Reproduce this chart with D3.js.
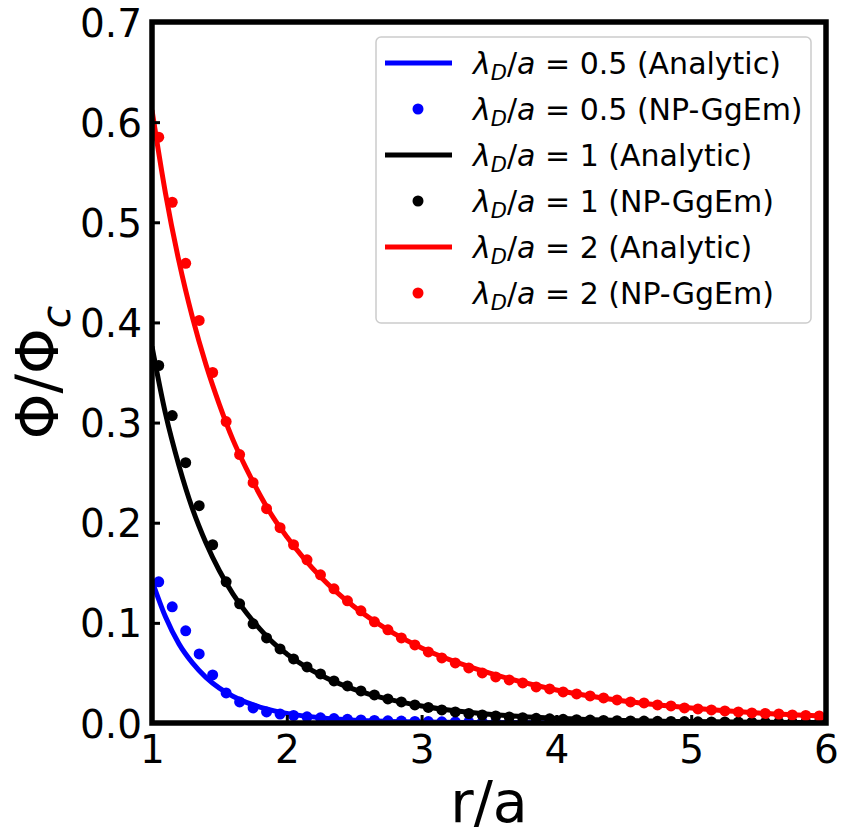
<!DOCTYPE html>
<html>
<head>
<meta charset="utf-8">
<script src="https://cdn.jsdelivr.net/npm/d3@7"></script>
<style>
  body { margin: 0; background: #fff; }
  svg { display: block; font-family: "DejaVu Sans", sans-serif; }
</style>
</head>
<body>
<svg id="graph" width="842" height="835"></svg>
<script>
// analytic curves at these r/a values
const lineR = [1.0, 1.1, 1.2, 1.3, 1.4, 1.5, 1.6, 1.7, 1.8, 1.9, 2.0, 2.25, 2.5, 2.75, 3.0, 3.5, 4.0, 4.5, 5.0, 5.5, 6.0];
const blueLine = [0.142, 0.106, 0.079, 0.060, 0.0456, 0.0348, 0.0267, 0.0206, 0.0159, 0.0124, 0.0096, 0.0052, 0.0028, 0.0016, 0.0009, 0.0003, 0.0001, 0.00004, 0.00002, 0.00001, 0];
const blackLine = [0.376, 0.309, 0.257, 0.214, 0.180, 0.152, 0.129, 0.110, 0.094, 0.080, 0.069, 0.048, 0.0336, 0.0238, 0.017, 0.0088, 0.0047, 0.0025, 0.0014, 0.0008, 0.0004];
const redLine = [0.612, 0.529, 0.461, 0.405, 0.358, 0.318, 0.283, 0.254, 0.228, 0.205, 0.186, 0.146, 0.116, 0.093, 0.075, 0.050, 0.033, 0.022, 0.015, 0.010, 0.007];

// NP-GgEm points
const dotR = [1.05, 1.15, 1.25, 1.35, 1.45, 1.55, 1.65, 1.75, 1.85, 1.95,
  2.05, 2.15, 2.25, 2.35, 2.45, 2.55, 2.65, 2.75, 2.85, 2.95,
  3.05, 3.15, 3.25, 3.35, 3.45, 3.55, 3.65, 3.75, 3.85, 3.95,
  4.05, 4.15, 4.25, 4.35, 4.45, 4.55, 4.65, 4.75, 4.85, 4.95,
  5.05, 5.15, 5.25, 5.35, 5.45, 5.55, 5.65, 5.75, 5.85, 5.95];
const blueDots = [0.141, 0.116, 0.092, 0.069, 0.048, 0.030, 0.021, 0.015, 0.011, 0.009,
  0.0075, 0.0062, 0.0052, 0.0044, 0.0037, 0.0031, 0.0026, 0.0022, 0.0019, 0.0016,
  0.0014, 0.0012, 0.0010, 0.0009, 0.0008, 0.0007, 0.0006, 0.0005, 0.0004, 0.0004,
  0.0003, 0.0003, 0.0003, 0.0002, 0.0002, 0.0002, 0.0002, 0.0001, 0.0001, 0.0001,
  0.0001, 0.0001, 0.0001, 0.0001, 0.0001, 0.0001, 0, 0, 0, 0];
const blackDots = [0.357, 0.307, 0.260, 0.217, 0.178, 0.141, 0.119, 0.099, 0.085, 0.074,
  0.064, 0.056, 0.049, 0.042, 0.037, 0.032, 0.028, 0.024, 0.021, 0.018,
  0.0155, 0.013, 0.011, 0.0095, 0.008, 0.007, 0.006, 0.0053, 0.0047, 0.0042,
  0.0037, 0.0033, 0.0029, 0.0026, 0.0023, 0.0021, 0.0019, 0.0017, 0.0015, 0.0014,
  0.0012, 0.0011, 0.0010, 0.0009, 0.0008, 0.0007, 0.0007, 0.0006, 0.0005, 0.0005];
const redDots = [0.585, 0.520, 0.459, 0.402, 0.350, 0.301, 0.268, 0.240, 0.214, 0.195,
  0.178, 0.163, 0.148, 0.134, 0.122, 0.112, 0.101, 0.093, 0.085, 0.078,
  0.071, 0.065, 0.060, 0.055, 0.050, 0.046, 0.043, 0.040, 0.036, 0.034,
  0.031, 0.029, 0.027, 0.025, 0.023, 0.021, 0.020, 0.018, 0.017, 0.015,
  0.014, 0.013, 0.012, 0.011, 0.010, 0.0095, 0.009, 0.008, 0.0075, 0.007];

const lambdas = ['0.5', '1', '2'];
const colors = ['#0000ff', '#000000', '#ff0000'];
const xTicks = [1, 2, 3, 4, 5, 6];
const yTicks = [0.0, 0.1, 0.2, 0.3, 0.4, 0.5, 0.6, 0.7];

const plotL = 152, plotR = 826, plotT = 22, plotB = 723;

const x = d3.scaleLinear().domain([1, 6]).range([plotL, plotR]);
const y = d3.scaleLinear().domain([0, 0.7]).range([plotB, plotT]);

const svg = d3.select('#graph');

svg.append('defs').append('clipPath').attr('id', 'clip')
  .append('rect')
  .attr('x', plotL).attr('y', plotT)
  .attr('width', plotR - plotL).attr('height', plotB - plotT);

const plot = svg.append('g').attr('clip-path', 'url(#clip)');

const line = d3.line()
  .x(d => x(d[0]))
  .y(d => y(d[1]))
  .curve(d3.curveMonotoneX);

const lineSets = [blueLine, blackLine, redLine];
const dotSets = [blueDots, blackDots, redDots];

for (let i = 0; i < 3; i++) {
  plot.append('path')
    .attr('d', line(lineR.map((r, j) => [r, lineSets[i][j]])))
    .attr('fill', 'none')
    .attr('stroke', colors[i])
    .attr('stroke-width', 5);

  plot.selectAll(null)
    .data(dotR.map((r, j) => [r, dotSets[i][j]]))
    .enter().append('circle')
    .attr('cx', d => x(d[0]))
    .attr('cy', d => y(d[1]))
    .attr('r', 5.5)
    .attr('fill', colors[i]);
}

// axes, ticks pointing in
const yAxis = svg.append('g')
  .attr('transform', `translate(${plotL},0)`)
  .call(d3.axisLeft(y).tickValues(yTicks).tickFormat(d3.format('.1f'))
    .tickSizeInner(-8).tickSizeOuter(0).tickPadding(10));
yAxis.select('.domain').remove();
yAxis.selectAll('line').attr('stroke-width', 3);
yAxis.selectAll('text')
  .attr('font-size', 39).attr('font-family', 'DejaVu Sans')
  .attr('fill', '#000').attr('dy', '0.36em');

const xAxis = svg.append('g')
  .attr('transform', `translate(0,${plotB})`)
  .call(d3.axisBottom(x).tickValues(xTicks).tickFormat(d3.format('d'))
    .tickSizeInner(-8).tickSizeOuter(0).tickPadding(12));
xAxis.select('.domain').remove();
xAxis.selectAll('line').attr('stroke-width', 3);
xAxis.selectAll('text')
  .attr('font-size', 39).attr('font-family', 'DejaVu Sans')
  .attr('fill', '#000');

// frame
svg.append('rect')
  .attr('x', plotL).attr('y', plotT)
  .attr('width', plotR - plotL).attr('height', plotB - plotT)
  .attr('fill', 'none')
  .attr('stroke', '#000')
  .attr('stroke-width', 5.5);

// axis labels
svg.append('text')
  .attr('x', (plotL + plotR) / 2).attr('y', 822)
  .attr('text-anchor', 'middle')
  .attr('font-size', 57)
  .text('r/a');

const yl = svg.append('text')
  .attr('transform', `translate(58,${(plotT + plotB) / 2}) rotate(-90)`)
  .attr('text-anchor', 'middle')
  .attr('font-size', 58);
yl.append('tspan').text('Φ/Φ');
yl.append('tspan').attr('font-style', 'italic').attr('font-size', 41).attr('dy', 12).text('c');

// legend
const lg = svg.append('g');
lg.append('rect')
  .attr('x', 376).attr('y', 37)
  .attr('width', 435).attr('height', 286)
  .attr('rx', 5)
  .attr('fill', '#fff').attr('fill-opacity', 0.8)
  .attr('stroke', '#cccccc').attr('stroke-width', 1.5);

const rowY0 = 63, rowStep = 46;
for (let i = 0; i < 3; i++) {
  ['Analytic', 'NP-GgEm'].forEach((kind, k) => {
    const yy = rowY0 + (i * 2 + k) * rowStep;
    if (k === 0) {
      lg.append('line')
        .attr('x1', 385).attr('x2', 452)
        .attr('y1', yy).attr('y2', yy)
        .attr('stroke', colors[i]).attr('stroke-width', 5);
    } else {
      lg.append('circle')
        .attr('cx', 418).attr('cy', yy).attr('r', 5.5)
        .attr('fill', colors[i]);
    }
    const t = lg.append('text')
      .attr('x', 473).attr('y', yy + 11)
      .attr('font-size', 30);
    t.append('tspan').attr('font-style', 'italic').text('λ');
    t.append('tspan').attr('font-style', 'italic').attr('font-size', 21).attr('dy', 6).text('D');
    t.append('tspan').attr('dy', -6).text('/');
    t.append('tspan').attr('font-style', 'italic').text('a');
    t.append('tspan').text(`\u00a0=\u00a0${lambdas[i]} (${kind})`);
  });
}
</script>
</body>
</html>
